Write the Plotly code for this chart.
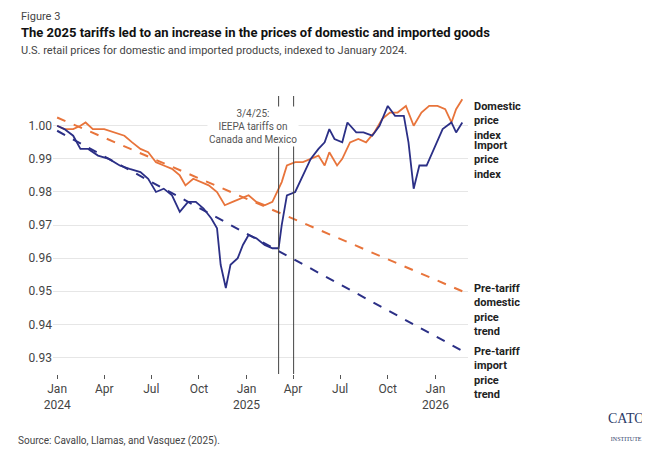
import plotly.graph_objects as go

dom_dates = ["2024-01-01", "2024-01-15", "2024-02-01", "2024-02-15", "2024-02-25", "2024-03-10",
             "2024-04-01", "2024-04-20", "2024-05-10", "2024-05-25", "2024-06-10", "2024-06-25",
             "2024-07-10", "2024-07-25", "2024-08-10", "2024-08-25", "2024-09-05", "2024-09-20",
             "2024-10-05", "2024-10-20", "2024-11-05", "2024-11-20", "2024-12-05", "2024-12-20",
             "2025-01-05", "2025-01-20", "2025-02-05", "2025-02-20", "2025-03-01", "2025-03-10",
             "2025-03-20", "2025-04-05", "2025-04-20", "2025-05-05", "2025-05-20", "2025-06-01",
             "2025-06-10", "2025-06-25", "2025-07-05", "2025-07-20", "2025-08-05", "2025-08-20",
             "2025-09-05", "2025-09-20", "2025-10-05", "2025-10-20", "2025-11-05", "2025-11-20",
             "2025-12-05", "2025-12-20", "2026-01-05", "2026-01-20", "2026-02-01", "2026-02-10",
             "2026-02-22"]
dom_vals = [1.000, 0.999, 0.999, 1.000, 1.001, 0.999, 0.999, 0.998, 0.997, 0.995, 0.993, 0.992,
            0.989, 0.988, 0.987, 0.985, 0.982, 0.984, 0.983, 0.982, 0.980, 0.976, 0.977, 0.978,
            0.979, 0.977, 0.976, 0.977, 0.980, 0.983, 0.988, 0.989, 0.989, 0.990, 0.991, 0.988,
            0.992, 0.988, 0.990, 0.995, 0.996, 0.995, 0.998, 1.002, 1.004, 1.004, 1.006, 1.000,
            1.004, 1.006, 1.006, 1.005, 1.001, 1.005, 1.008]

imp_dates = ["2024-01-01", "2024-01-15", "2024-02-01", "2024-02-15", "2024-03-01", "2024-03-20",
             "2024-04-10", "2024-05-01", "2024-05-20", "2024-06-10", "2024-06-25", "2024-07-10",
             "2024-07-25", "2024-08-10", "2024-08-25", "2024-09-10", "2024-09-25", "2024-10-10",
             "2024-10-25", "2024-11-05", "2024-11-12", "2024-11-22", "2024-12-01", "2024-12-15",
             "2024-12-25", "2025-01-05", "2025-01-20", "2025-02-05", "2025-02-20", "2025-03-04",
             "2025-03-10", "2025-03-20", "2025-04-05", "2025-04-20", "2025-05-05", "2025-05-20",
             "2025-06-01", "2025-06-10", "2025-06-20", "2025-07-05", "2025-07-15", "2025-08-01",
             "2025-08-15", "2025-09-01", "2025-09-15", "2025-10-01", "2025-10-15", "2025-11-01",
             "2025-11-10", "2025-11-20", "2025-12-01", "2025-12-15", "2026-01-01", "2026-01-15",
             "2026-02-01", "2026-02-10", "2026-02-22"]
imp_vals = [1.000, 0.999, 0.997, 0.993, 0.993, 0.991, 0.990, 0.988, 0.987, 0.986, 0.984, 0.980,
            0.981, 0.979, 0.974, 0.977, 0.977, 0.975, 0.972, 0.969, 0.958, 0.951, 0.958, 0.960,
            0.964, 0.967, 0.966, 0.964, 0.963, 0.963, 0.970, 0.979, 0.980, 0.985, 0.990, 0.993,
            0.995, 0.999, 0.996, 0.995, 1.001, 0.998, 0.998, 0.997, 1.000, 1.006, 1.003, 1.003,
            0.995, 0.981, 0.988, 0.988, 0.994, 0.999, 1.001, 0.998, 1.001]

trend_dates = ["2024-01-01", "2026-02-22"]
dom_trend = [1.0025, 0.950]
imp_trend = [0.9985, 0.932]

orange = "#e8743b"
navy = "#2b2f86"

fig = go.Figure()
fig.add_trace(go.Scatter(x=trend_dates, y=dom_trend, mode="lines",
                         line=dict(color=orange, width=2, dash="dash")))
fig.add_trace(go.Scatter(x=trend_dates, y=imp_trend, mode="lines",
                         line=dict(color=navy, width=2, dash="dash")))
fig.add_trace(go.Scatter(x=dom_dates, y=dom_vals, mode="lines", line=dict(color=orange, width=1.8)))
fig.add_trace(go.Scatter(x=imp_dates, y=imp_vals, mode="lines", line=dict(color=navy, width=1.8)))

for d in ["2025-03-04", "2025-04-02"]:
    fig.add_shape(type="line", x0=d, x1=d, yref="paper", y0=0, y1=1.0,
                  line=dict(color="#444", width=1))

ann = dict(showarrow=False, font=dict(size=10, color="#555"), bgcolor="white")
fig.add_annotation(x="2025-01-14", y=1.006, text="3/4/25:<br>IEEPA tariffs on<br>Canada and Mexico",
                   yanchor="top", **ann)
fig.add_annotation(x="2025-05-08", y=1.0095, text="4/2/25:<br>\"Liberation Day\"", yanchor="top", **ann)

lab = dict(showarrow=False, xref="paper", xanchor="left", x=1.01, align="left",
           font=dict(size=11, color="#222", family="Roboto"))
fig.add_annotation(y=1.0085, yanchor="top", text="<b>Domestic<br>price<br>index</b>", **lab)
fig.add_annotation(y=0.9965, yanchor="top", text="<b>Import<br>price<br>index</b>", **lab)
fig.add_annotation(y=0.9535, yanchor="top", text="<b>Pre-tariff<br>domestic<br>price<br>trend</b>", **lab)
fig.add_annotation(y=0.9345, yanchor="top", text="<b>Pre-tariff<br>import<br>price<br>trend</b>", **lab)

fig.add_annotation(xref="paper", yref="paper", x=-0.09, y=-0.27, xanchor="left",
                   text="Source: Cavallo, Llamas, and Vasquez (2025).", showarrow=False,
                   font=dict(size=10, color="#444"))
fig.add_annotation(xref="paper", yref="paper", x=1.43, y=-0.25, xanchor="right",
                   text="CATO<br><span style='font-size:6px'>INSTITUTE</span>", showarrow=False,
                   font=dict(size=14, color="#2b3a67", family="Liberation Serif"))

fig.update_layout(
    width=650, height=469, plot_bgcolor="white", paper_bgcolor="white", showlegend=False,
    font=dict(family="Roboto", color="#444", size=12),
    margin=dict(l=45, r=190, t=88, b=103),
    title=dict(text="<span style='font-size:11px;color:#444'>Figure 3</span><br>"
                    "<b>The 2025 tariffs led to an increase in the prices of domestic and imported goods</b><br>"
                    "<span style='font-size:11px;color:#444'>U.S. retail prices for domestic and imported products, indexed to January 2024.</span>",
               x=0.02, xanchor="left", y=0.975, yanchor="top", font=dict(size=13, color="#111")),
)
fig.update_xaxes(range=["2023-12-24", "2026-03-05"], showgrid=False, ticks="outside", ticklen=4,
                 tickcolor="#555",
                 tickvals=["2024-01-01", "2024-04-01", "2024-07-01", "2024-10-01", "2025-01-01",
                           "2025-04-01", "2025-07-01", "2025-10-01", "2026-01-01"],
                 ticktext=["Jan<br>2024", "Apr", "Jul", "Oct", "Jan<br>2025", "Apr", "Jul", "Oct", "Jan<br>2026"])
fig.update_yaxes(range=[0.925, 1.009], dtick=0.01, tickformat=".2f", gridcolor="#e6e6e6",
                 zeroline=False)
fig.write_html("out.html")
